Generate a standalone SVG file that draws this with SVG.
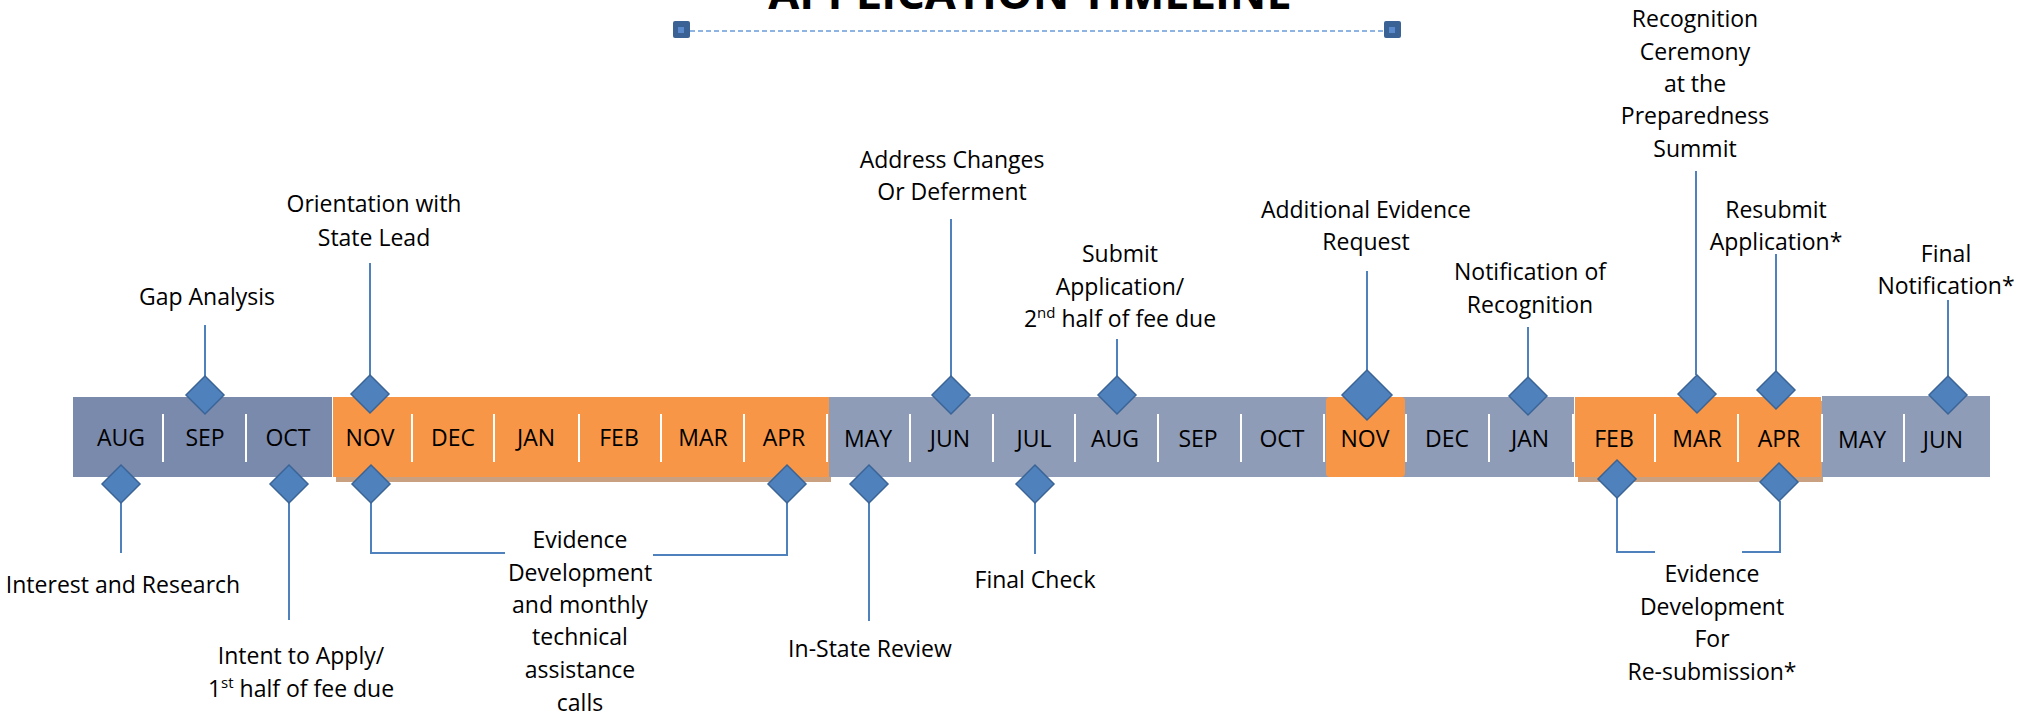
<svg xmlns="http://www.w3.org/2000/svg" xmlns:xlink="http://www.w3.org/1999/xlink" width="2039" height="718" viewBox="0 0 2039 718">
<style>
text{font-family:"Open Sans","Liberation Sans",sans-serif;font-size:23px;fill:#000;text-anchor:middle}
.title{font-weight:bold;font-size:45px}
.bar1{fill:#7A8AAD}
.bar2{fill:#8E9CB8}
.orange{fill:#F79646}
.shadow{fill:#C9A080}
.sep{stroke:#FFFFFF;stroke-width:2}
.dia{fill:#4F81BD;stroke:#3A6496;stroke-width:1.5}
.conn{fill:none;stroke:#4F81BD;stroke-width:2}
.handle{fill:#3B6294}
.handle-in{fill:#5A8ACB}
.dash{stroke:#8EB4E3;stroke-width:2;stroke-dasharray:5 3}
</style>
<defs>
<path id="dia" d="M0,-19 L19,0 L0,19 L-19,0 Z"/>
<path id="diaBig" d="M0,-25 L25,0 L0,25 L-25,0 Z"/>
</defs>
<rect width="2039" height="718" fill="#FFFFFF"/>

<g id="title">
<text class="title" x="1030" y="9">APPLICATION TIMELINE</text>
<line class="dash" x1="690" y1="31" x2="1384" y2="31"/>
<rect class="handle" x="673" y="21" width="17" height="17" rx="2"/>
<rect class="handle-in" x="678" y="27" width="6" height="6"/>
<rect class="handle" x="1384" y="21" width="17" height="17" rx="2"/>
<rect class="handle-in" x="1389" y="27" width="6" height="6"/>
</g>

<g id="timeline-bar">
<rect class="bar1" x="73" y="397" width="259" height="80"/>
<rect class="shadow" x="336" y="401" width="495" height="81"/>
<rect class="orange" x="333" y="397" width="496" height="80"/>
<rect class="bar2" x="829" y="397" width="745" height="80"/>
<rect class="orange" x="1326" y="397" width="79" height="80" rx="4"/>
<rect class="shadow" x="1578" y="401" width="245" height="81"/>
<rect class="orange" x="1575" y="397" width="246" height="80"/>
<rect class="bar2" x="1822" y="396" width="168" height="81"/>
<g id="separators">
<line class="sep" x1="163" y1="414" x2="163" y2="462"/>
<line class="sep" x1="246" y1="414" x2="246" y2="462"/>
<line class="sep" x1="412" y1="414" x2="412" y2="462"/>
<line class="sep" x1="494" y1="414" x2="494" y2="462"/>
<line class="sep" x1="579" y1="414" x2="579" y2="462"/>
<line class="sep" x1="661" y1="414" x2="661" y2="462"/>
<line class="sep" x1="744" y1="414" x2="744" y2="462"/>
<line class="sep" x1="827" y1="414" x2="827" y2="462"/>
<line class="sep" x1="910" y1="414" x2="910" y2="462"/>
<line class="sep" x1="993" y1="414" x2="993" y2="462"/>
<line class="sep" x1="1075" y1="414" x2="1075" y2="462"/>
<line class="sep" x1="1158" y1="414" x2="1158" y2="462"/>
<line class="sep" x1="1241" y1="414" x2="1241" y2="462"/>
<line class="sep" x1="1324" y1="414" x2="1324" y2="462"/>
<line class="sep" x1="1406" y1="414" x2="1406" y2="462"/>
<line class="sep" x1="1489" y1="414" x2="1489" y2="462"/>
<line class="sep" x1="1573" y1="414" x2="1573" y2="462"/>
<line class="sep" x1="1655" y1="414" x2="1655" y2="462"/>
<line class="sep" x1="1738" y1="414" x2="1738" y2="462"/>
<line class="sep" x1="1822" y1="414" x2="1822" y2="462"/>
<line class="sep" x1="1904" y1="414" x2="1904" y2="462"/>
</g>
<g id="months">
<text x="121" y="446">AUG</text>
<text x="205" y="446">SEP</text>
<text x="288" y="446">OCT</text>
<text x="370" y="446">NOV</text>
<text x="453" y="446">DEC</text>
<text x="536" y="446">JAN</text>
<text x="619" y="446">FEB</text>
<text x="703" y="446">MAR</text>
<text x="784" y="446">APR</text>
<text x="868" y="447">MAY</text>
<text x="950" y="447">JUN</text>
<text x="1034" y="447">JUL</text>
<text x="1115" y="447">AUG</text>
<text x="1198" y="447">SEP</text>
<text x="1282" y="447">OCT</text>
<text x="1365" y="447">NOV</text>
<text x="1447" y="447">DEC</text>
<text x="1530" y="447">JAN</text>
<text x="1614" y="447">FEB</text>
<text x="1697" y="447">MAR</text>
<text x="1779" y="447">APR</text>
<text x="1862" y="448">MAY</text>
<text x="1943" y="448">JUN</text>
</g>
</g>

<g id="connectors">
<path class="conn" d="M205,325 V376"/>
<path class="conn" d="M370,263 V375"/>
<path class="conn" d="M951,219 V376"/>
<path class="conn" d="M1117,339 V376"/>
<path class="conn" d="M1367,271 V370"/>
<path class="conn" d="M1528,327 V377"/>
<path class="conn" d="M1696,171 V375"/>
<path class="conn" d="M1776,254 V371"/>
<path class="conn" d="M1948,300 V376"/>
<path class="conn" d="M121,503 V553"/>
<path class="conn" d="M289,503 V620"/>
<path class="conn" d="M371,503 V553 H505"/>
<path class="conn" d="M653,555 H787 V503"/>
<path class="conn" d="M869,503 V621"/>
<path class="conn" d="M1035,503 V554"/>
<path class="conn" d="M1617,498 V552 H1655"/>
<path class="conn" d="M1742,552 H1780 V501"/>
</g>

<g id="n-gap-analysis">
<use href="#dia" class="dia" x="205" y="395"/>
<text x="207" y="305">Gap Analysis</text>
</g>
<g id="n-orientation">
<use href="#dia" class="dia" x="370" y="394"/>
<text x="374" y="212">Orientation with</text>
<text x="374" y="246">State Lead</text>
</g>
<g id="n-address-changes">
<use href="#dia" class="dia" x="951" y="395"/>
<text x="952" y="168">Address Changes</text>
<text x="952" y="200">Or Deferment</text>
</g>
<g id="n-submit">
<use href="#dia" class="dia" x="1117" y="395"/>
<text x="1120" y="262">Submit</text>
<text x="1120" y="295">Application/</text>
<text x="1120" y="327">2<tspan font-size="15" dy="-9">nd</tspan><tspan dy="9"> half of fee due</tspan></text>
</g>
<g id="n-additional-evidence">
<use href="#diaBig" class="dia" x="1367" y="395"/>
<text x="1366" y="218">Additional Evidence</text>
<text x="1366" y="250">Request</text>
</g>
<g id="n-notification">
<use href="#dia" class="dia" x="1528" y="396"/>
<text x="1530" y="280">Notification of</text>
<text x="1530" y="313">Recognition</text>
</g>
<g id="n-ceremony">
<use href="#dia" class="dia" x="1697" y="394"/>
<text x="1695" y="27">Recognition</text>
<text x="1695" y="60">Ceremony</text>
<text x="1695" y="92">at the</text>
<text x="1695" y="124">Preparedness</text>
<text x="1695" y="157">Summit</text>
</g>
<g id="n-resubmit">
<use href="#dia" class="dia" x="1776" y="390"/>
<text x="1776" y="218">Resubmit</text>
<text x="1776" y="250">Application*</text>
</g>
<g id="n-final-notification">
<use href="#dia" class="dia" x="1948" y="395"/>
<text x="1946" y="262">Final</text>
<text x="1946" y="294">Notification*</text>
</g>
<g id="n-interest">
<use href="#dia" class="dia" x="121" y="484"/>
<text x="123" y="593">Interest and Research</text>
</g>
<g id="n-intent">
<use href="#dia" class="dia" x="289" y="484"/>
<text x="301" y="664">Intent to Apply/</text>
<text x="301" y="697">1<tspan font-size="15" dy="-9">st</tspan><tspan dy="9"> half of fee due</tspan></text>
</g>
<g id="n-evidence">
<use href="#dia" class="dia" x="371" y="484"/>
<use href="#dia" class="dia" x="787" y="484"/>
<text x="580" y="548">Evidence</text>
<text x="580" y="581">Development</text>
<text x="580" y="613">and monthly</text>
<text x="580" y="645">technical</text>
<text x="580" y="678">assistance</text>
<text x="580" y="711">calls</text>
</g>
<g id="n-in-state-review">
<use href="#dia" class="dia" x="869" y="484"/>
<text x="870" y="657">In-State Review</text>
</g>
<g id="n-final-check">
<use href="#dia" class="dia" x="1035" y="484"/>
<text x="1035" y="588">Final Check</text>
</g>
<g id="n-evidence-resubmission">
<use href="#dia" class="dia" x="1617" y="479"/>
<use href="#dia" class="dia" x="1779" y="482"/>
<text x="1712" y="582">Evidence</text>
<text x="1712" y="615">Development</text>
<text x="1712" y="647">For</text>
<text x="1712" y="680">Re-submission*</text>
</g>
</svg>
